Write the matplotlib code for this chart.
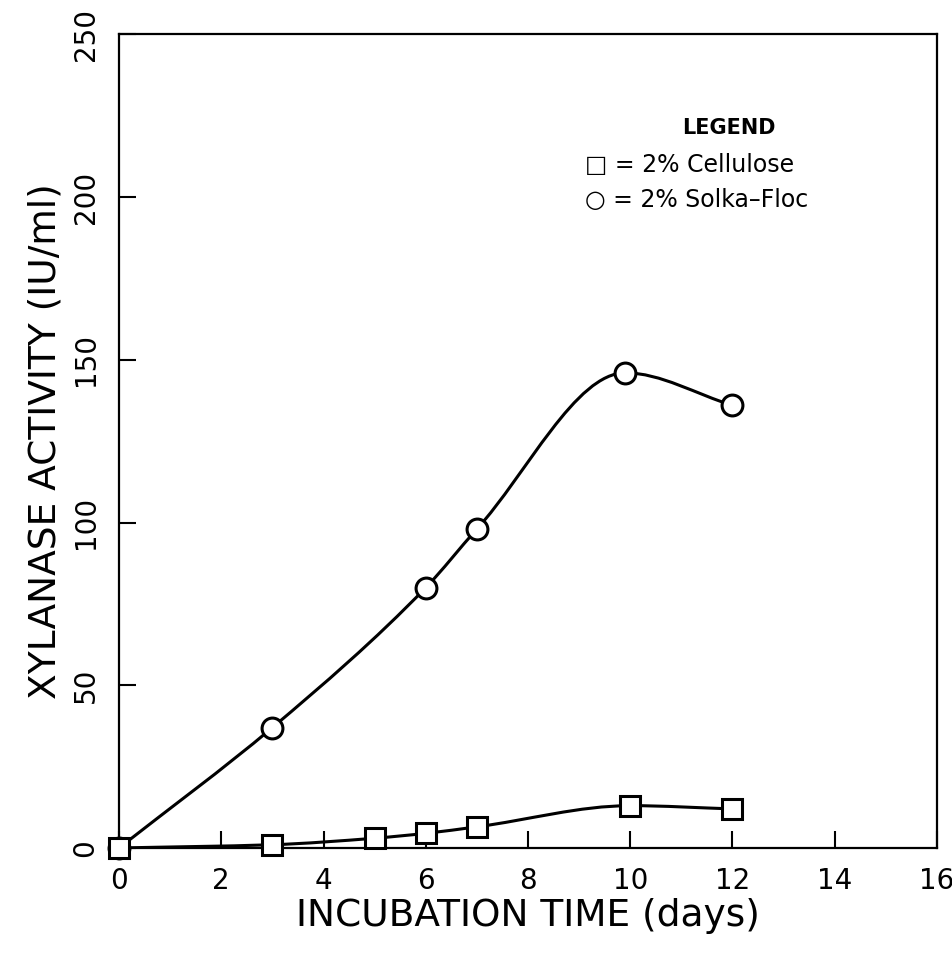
import numpy as np
import matplotlib
matplotlib.use("Agg")
import matplotlib.pyplot as plt
from matplotlib.path import Path
from matplotlib.patches import PathPatch

# Data
cellulose_x = [0, 3, 5, 6, 7, 10, 12]
cellulose_y = [0, 1, 3, 4.5, 6.5, 13, 12]
solka_x = [0, 3, 6, 7, 9.9, 12]
solka_y = [0, 37, 80, 98, 146, 136]

x_ticks = [0, 2, 4, 6, 8, 10, 12, 14, 16]
y_ticks = [0, 50, 100, 150, 200, 250]

xlabel = "INCUBATION TIME (days)"
ylabel = "XYLANASE ACTIVITY (IU/ml)"
legend_title = "LEGEND"
legend_lines = ["\u25A1 = 2% Cellulose", "\u25CB = 2% Solka\u2013Floc"]


def smooth_path(xs, ys):
    """Monotone (Fritsch-Carlson) cubic through the points, as a Bezier path."""
    x = np.asarray(xs, float)
    y = np.asarray(ys, float)
    h = np.diff(x)
    d = np.diff(y) / h
    n = len(x)
    m = np.zeros(n)
    for i in range(1, n - 1):
        if d[i - 1] * d[i] <= 0:
            m[i] = 0.0
        else:
            w1 = 2 * h[i] + h[i - 1]
            w2 = h[i] + 2 * h[i - 1]
            m[i] = (w1 + w2) / (w1 / d[i - 1] + w2 / d[i])
    m[0] = d[0]
    m[-1] = d[-1]
    verts = [(x[0], y[0])]
    codes = [Path.MOVETO]
    for i in range(n - 1):
        hh = h[i]
        verts += [(x[i] + hh / 3, y[i] + m[i] * hh / 3),
                  (x[i + 1] - hh / 3, y[i + 1] - m[i + 1] * hh / 3),
                  (x[i + 1], y[i + 1])]
        codes += [Path.CURVE4] * 3
    return Path(verts, codes)


fig = plt.figure(figsize=(9.53, 9.56), dpi=100)
ax = fig.add_axes([0.1249, 0.113, 0.8583, 0.851])

for xs, ys in [(solka_x, solka_y), (cellulose_x, cellulose_y)]:
    ax.add_patch(PathPatch(smooth_path(xs, ys), facecolor="none",
                           edgecolor="black", lw=2.2, zorder=2))

ax.plot(solka_x, solka_y, linestyle="none", marker="o", ms=15,
        mfc="white", mec="black", mew=2.2, zorder=3, clip_on=False)
ax.plot(cellulose_x, cellulose_y, linestyle="none", marker="s", ms=15,
        mfc="white", mec="black", mew=2.2, zorder=4, clip_on=False)

ax.set_xlim(0, 16)
ax.set_ylim(0, 250)
ax.set_xticks(x_ticks)
ax.set_yticks(y_ticks)
ax.tick_params(direction="in", length=12, width=1.5, labelsize=20, pad=14)
for lab in ax.get_yticklabels():
    lab.set_rotation(90)
    lab.set_va("center")
for s in ax.spines.values():
    s.set_linewidth(1.6)

ax.set_xlabel(xlabel, fontsize=27, labelpad=2)
ax.set_ylabel(ylabel, fontsize=27, labelpad=6)

ax.text(0.745, 0.885, legend_title, transform=ax.transAxes, ha="center",
        va="center", fontsize=15, fontweight="semibold")
ax.text(0.57, 0.84, legend_lines[0], transform=ax.transAxes, ha="left",
        va="center", fontsize=17)
ax.text(0.57, 0.797, legend_lines[1], transform=ax.transAxes, ha="left",
        va="center", fontsize=17)

fig.savefig("out.png", dpi=100)
